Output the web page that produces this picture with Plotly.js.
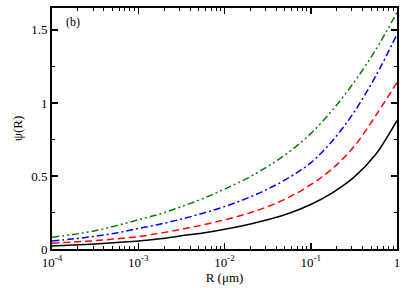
<!DOCTYPE html>
<html>
<head>
<meta charset="utf-8">
<script src="https://cdn.plot.ly/plotly-3.0.1.min.js"></script>
<style>html,body{margin:0;padding:0;background:#fff;}#plot{width:415px;height:288px;}</style>
</head>
<body>
<div id="plot"></div>
<script>
const R = [1e-4, 1.78e-4, 3.16e-4, 5.62e-4, 1e-3, 1.78e-3, 3.16e-3, 5.62e-3, 1e-2, 1.78e-2, 3.16e-2, 5.62e-2, 0.1, 0.178, 0.316, 0.562, 1];
const psiBlack = [0.02, 0.027, 0.035, 0.045, 0.055, 0.07, 0.09, 0.11, 0.135, 0.165, 0.2, 0.245, 0.305, 0.385, 0.49, 0.645, 0.88];
const psiRed = [0.04, 0.048, 0.057, 0.07, 0.085, 0.108, 0.135, 0.165, 0.20, 0.24, 0.29, 0.355, 0.44, 0.55, 0.70, 0.91, 1.14];
const psiBlue = [0.055, 0.07, 0.087, 0.11, 0.14, 0.17, 0.205, 0.245, 0.29, 0.345, 0.41, 0.49, 0.59, 0.74, 0.935, 1.18, 1.47];
const psiGreen = [0.08, 0.1, 0.125, 0.16, 0.2, 0.24, 0.29, 0.345, 0.41, 0.48, 0.565, 0.665, 0.79, 0.95, 1.14, 1.36, 1.62];
const xTickVals = [1e-4, 1e-3, 1e-2, 1e-1, 1];
const xTickText = ['10<sup>-4</sup>', '10<sup>-3</sup>', '10<sup>-2</sup>', '10<sup>-1</sup>', '1'];
const yTickVals = [0, 0.5, 1, 1.5];
const yTickText = ['0', '0.5', '1', '1.5'];

function tr(y, color, dash) {
  return {x: R, y: y, type: 'scatter', mode: 'lines',
    line: {color: color, width: 1.5, dash: dash, shape: 'spline', smoothing: 1}, hoverinfo: 'skip'};
}
const data = [
  tr(psiBlack, '#000000', 'solid'),
  tr(psiRed, '#ff0000', '7px,4px'),
  tr(psiBlue, '#0000ff', '7px,3px,2px,3px'),
  tr(psiGreen, '#008000', '7px,3px,2px,3px,2px,3px')
];
const font = {family: '"Liberation Serif", "Times New Roman", serif', size: 13, color: '#000'};
const layout = {
  width: 415, height: 288,
  margin: {l: 52, r: 18, t: 8, b: 39},
  paper_bgcolor: '#fff', plot_bgcolor: '#fff',
  showlegend: false,
  font: font,
  xaxis: {
    type: 'log', range: [-4, 0],
    tickmode: 'array', tickvals: xTickVals, ticktext: xTickText,
    ticks: 'inside', ticklen: 6, tickwidth: 1.5, tickcolor: '#000',
    minor: {ticks: 'inside', ticklen: 3, tickwidth: 1, tickcolor: '#000', dtick: 'D1'},
    showline: true, linecolor: '#000', linewidth: 2, mirror: 'ticks',
    showgrid: false, zeroline: false,
    tickfont: font,
    title: {text: 'R (μm)', font: font, standoff: 4}
  },
  yaxis: {
    range: [0, 1.65],
    tickmode: 'array', tickvals: yTickVals, ticktext: yTickText,
    ticks: 'inside', ticklen: 6, tickwidth: 1.5, tickcolor: '#000',
    minor: {ticks: 'inside', ticklen: 3, tickwidth: 1, tickcolor: '#000', dtick: 0.25},
    showline: true, linecolor: '#000', linewidth: 2, mirror: 'ticks',
    showgrid: false, zeroline: false,
    tickfont: font,
    title: {text: 'ψ(R)', font: font, standoff: 6}
  },
  annotations: [{
    text: '(b)', xref: 'paper', yref: 'paper', x: 0.036, y: 0.978,
    xanchor: 'left', yanchor: 'top', showarrow: false, font: {family: font.family, size: 12, color: '#000'}
  }]
};
Plotly.newPlot('plot', data, layout, {staticPlot: true, displayModeBar: false});
</script>
</body>
</html>
